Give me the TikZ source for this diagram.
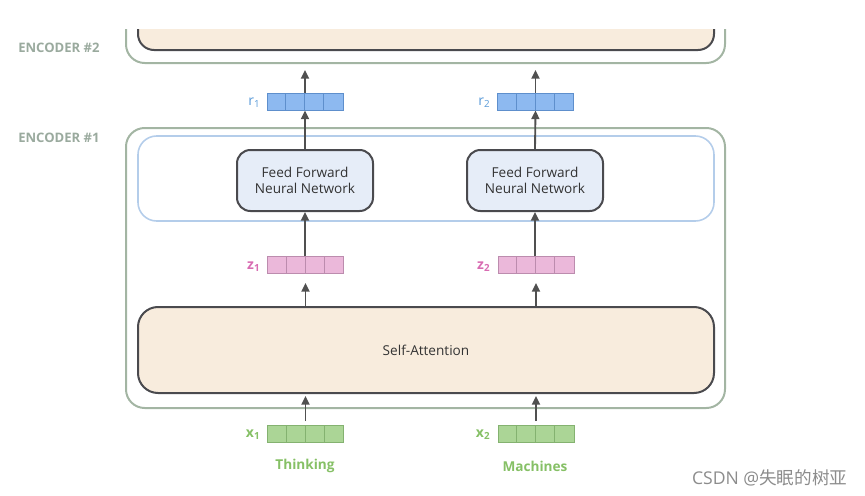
\documentclass[tikz,border=0pt]{standalone}
\usepackage{fontspec}
\setmainfont{Open Sans}
\newfontfamily\cjkfont{Noto Sans CJK SC}
\usetikzlibrary{arrows.meta}
\definecolor{encline}{HTML}{A3B5A3}
\definecolor{enctext}{HTML}{9AAA9E}
\definecolor{ffnline}{HTML}{B4CDEA}
\definecolor{darkline}{HTML}{4A4A4E}
\definecolor{beige}{HTML}{F8ECDD}
\definecolor{ffnfill}{HTML}{E6EDF8}
\definecolor{rfill}{HTML}{8DB9F0}
\definecolor{rline}{HTML}{5E8FCC}
\definecolor{rtext}{HTML}{5B9BD8}
\definecolor{zfill}{HTML}{EBB8DA}
\definecolor{zline}{HTML}{BC8CAE}
\definecolor{ztext}{HTML}{D86CB2}
\definecolor{xfill}{HTML}{ABD596}
\definecolor{xline}{HTML}{84B270}
\definecolor{xtext}{HTML}{86C066}
\definecolor{arrcol}{HTML}{505050}
\begin{document}
\begin{tikzpicture}[x=0.75pt,y=-0.75pt,
  arr/.style={draw=arrcol,line width=1.4pt,-{Triangle[length=6.5pt,width=6pt]}},
  vec/.style={rectangle,minimum width=57pt,minimum height=12.75pt,inner sep=0pt,line width=0.7pt},
  enclabel/.style={text=enctext,font=\bfseries\fontsize{9.8}{11}\selectfont,anchor=west,inner sep=0pt},
  ffn/.style={rectangle,rounded corners=10pt,draw=darkline,line width=1.5pt,fill=ffnfill,
    minimum width=102pt,minimum height=45.75pt,align=center,font=\fontsize{10.2}{12.5}\selectfont,text=black!80},
  veclabel/.style={font=\fontsize{10.5}{11}\selectfont,anchor=east},
  word/.style={font=\bfseries\fontsize{10.2}{12}\selectfont}]
\useasboundingbox (0,0) rectangle (865,496);
% Encoder #2 (cut at top)
\draw[encline,line width=1.5pt,rounded corners=14pt] (126,29) -- (126,63) -- (725,63) -- (725,29);
\filldraw[fill=beige,draw=darkline,line width=1.5pt,rounded corners=12pt] (138,29) -- (138,50) -- (714,50) -- (714,29);
\node[enclabel] (enc2) at (18,48) {ENCODER \#2};
% Encoder #1
\node[enclabel] (enc1) at (18,138) {ENCODER \#1};
\draw[encline,line width=1.5pt,rounded corners=14pt] (126,128) rectangle (725,408);
\draw[ffnline,line width=1.2pt,rounded corners=14pt] (138,136) rectangle (714,221);
\node[ffn] (ffn1) at (305,180.5) {Feed Forward\\Neural Network};
\node[ffn] (ffn2) at (535,180.5) {Feed Forward\\Neural Network};
\node[rectangle,rounded corners=15pt,draw=darkline,line width=1.5pt,fill=beige,
  minimum width=432pt,minimum height=64.5pt,font=\fontsize{10.2}{12}\selectfont,text=black!80] (sa) at (426,350) {Self-Attention};
% vectors
\node[vec,fill=rfill,draw=rline] (r1) at (305,101.5) {};
\node[vec,fill=rfill,draw=rline] (r2) at (535.5,101.5) {};
\node[vec,fill=zfill,draw=zline] (z1) at (305.5,265) {};
\node[vec,fill=zfill,draw=zline] (z2) at (536,265) {};
\node[vec,fill=xfill,draw=xline] (x1) at (305.5,433.5) {};
\node[vec,fill=xfill,draw=xline] (x2) at (536,433.5) {};
\foreach \v/\c in {r1/rline,r2/rline,z1/zline,z2/zline,x1/xline,x2/xline}{
  \foreach \i in {1,2,3}{
    \draw[\c,line width=0.7pt] ([xshift=\i*14.25pt]\v.south west) -- ([xshift=\i*14.25pt]\v.north west);
  }
}
\node[veclabel,text=rtext] (lr1) at (265,103) {r\textsubscript{1}};
\node[veclabel,text=rtext] (lr2) at (495,103) {r\textsubscript{2}};
\node[veclabel,text=ztext] (lz1) at (265,267) {\textbf{z}\textsubscript{\textbf{1}}};
\node[veclabel,text=ztext] (lz2) at (495,267) {\textbf{z}\textsubscript{\textbf{2}}};
\node[veclabel,text=xtext] (lx1) at (265,435) {\textbf{x}\textsubscript{\textbf{1}}};
\node[veclabel,text=xtext] (lx2) at (495,435) {\textbf{x}\textsubscript{\textbf{2}}};
\node[word,text=xtext] (w1) at (305,466) {Thinking};
\node[word,text=xtext] (w2) at (535,466) {Machines};
% arrows
\coordinate (e2a) at (305,63);
\coordinate (e2b) at (535.5,63);
\draw[arr,shorten >=5.25pt] (r1.north) -- (e2a);
\draw[arr,shorten >=5.25pt] (r2.north) -- (e2b);
\draw[arr] (ffn1.north) -- (r1.south);
\draw[arr] (ffn2.north) -- (r2.south);
\draw[arr] (z1.north -| ffn1.south) -- (ffn1.south);
\draw[arr] (z2.north -| ffn2.south) -- (ffn2.south);
\draw[arr,shorten >=6.75pt] (sa.north -| z1.south) -- (z1.south);
\draw[arr,shorten >=6.75pt] (sa.north -| z2.south) -- (z2.south);
\draw[arr,shorten <=2.5pt,shorten >=1.5pt] (x1.north) -- (x1.north |- sa.south);
\draw[arr,shorten <=2.5pt,shorten >=1.5pt] (x2.north) -- (x2.north |- sa.south);
% watermark
\node[text=black!45,font=\fontsize{13.2}{15}\selectfont,anchor=east] (wm) at (852,478) {CSDN @\cjkfont 失眠的树亚};
\end{tikzpicture}
\end{document}
